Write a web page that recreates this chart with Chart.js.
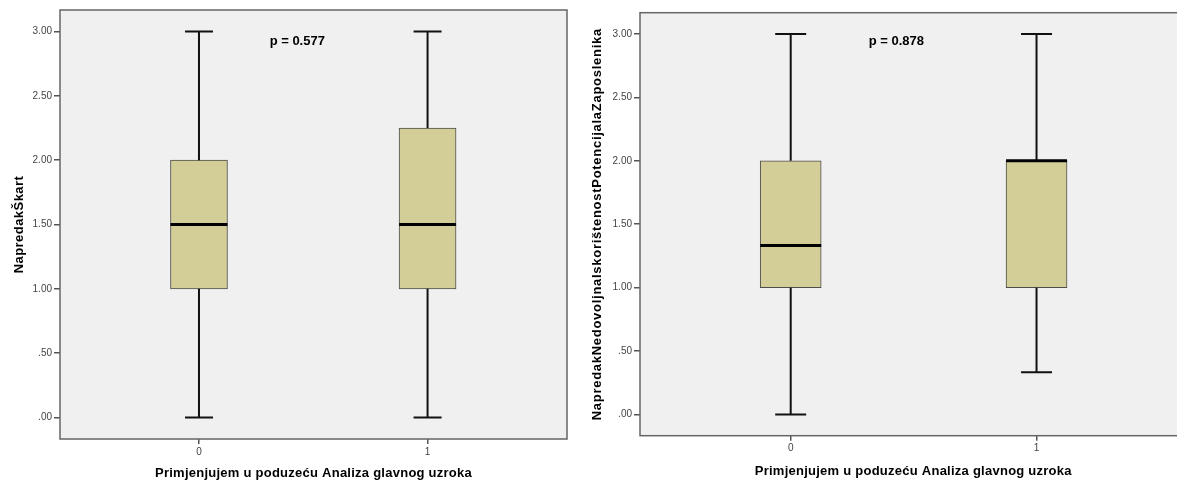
<!DOCTYPE html>
<html lang="en">
<head>
<meta charset="UTF-8" />
<title>Boxplots - Analiza glavnog uzroka</title>
<script src="https://cdn.jsdelivr.net/npm/chart.js"></script>
<style>
  html, body { margin: 0; padding: 0; background: #fff; overflow: hidden; }
  .wrap { position: absolute; top: 0; height: 487px; }
  #leftWrap { left: 0; width: 575px; }
  #rightWrap { left: 575px; width: 612px; }
</style>
</head>
<body>
<div id="leftWrap" class="wrap"><canvas id="leftChart"></canvas></div>
<div id="rightWrap" class="wrap"><canvas id="rightChart"></canvas></div>
<script>
  // shared
  const groups = [0, 1];
  const xTickLabels = ['0', '1'];
  const yTicks = [0, 0.5, 1, 1.5, 2, 2.5, 3];
  const xTitle = 'Primjenjujem u poduzeću Analiza glavnog uzroka';

  // left chart
  const leftTitle = 'NapredakŠkart';
  const leftMin = [0, 0];
  const leftQ1 = [1, 1];
  const leftMedian = [1.5, 1.5];
  const leftQ3 = [2, 2.25];
  const leftMax = [3, 3];
  const leftP = 'p = 0.577';

  // right chart
  const rightTitle = 'NapredakNedovoljnaIskorištenostPotencijalaZaposlenika';
  const rightMin = [0, 0.333];
  const rightQ1 = [1, 1];
  const rightMedian = [1.333, 2];
  const rightQ3 = [2, 2];
  const rightMax = [3, 3];
  const rightP = 'p = 0.878';

  const FONT = "Arial, 'Liberation Sans', sans-serif";

  function fmtTick(v) {
    return v.toFixed(2).replace(/^0/, '');
  }

  // background, frame, whiskers, medians and p label
  const boxParts = {
    id: 'boxParts',
    beforeDraw(chart, args, o) {
      // SPSS titles are a bit wider than plain Arial: add letter spacing to axis titles only
      Object.values(chart.scales).forEach(s => {
        if (s._spaced) return;
        const orig = s.drawTitle.bind(s);
        const sp = s.axis === 'x' ? o.xSpacing : o.ySpacing;
        s.drawTitle = function () {
          chart.ctx.save();
          chart.ctx.letterSpacing = sp + 'px';
          orig();
          chart.ctx.restore();
        };
        s._spaced = true;
      });
    },
    beforeDatasetsDraw(chart) {
      const a = chart.chartArea, ctx = chart.ctx;
      ctx.save();
      ctx.fillStyle = '#f0f0f0';
      ctx.fillRect(a.left, a.top, a.right - a.left, a.bottom - a.top);
      ctx.restore();
    },
    afterDatasetsDraw(chart, args, o) {
      const a = chart.chartArea, ctx = chart.ctx;
      const xs = chart.scales.x, ys = chart.scales.y;
      ctx.save();
      ctx.strokeStyle = '#111';
      ctx.lineWidth = 2;
      groups.forEach((g, i) => {
        const cx = xs.getPixelForValue(g);
        const half = o.cap / 2;
        const yMin = ys.getPixelForValue(o.min[i]);
        const yMax = ys.getPixelForValue(o.max[i]);
        const yQ1 = ys.getPixelForValue(o.q1[i]);
        const yQ3 = ys.getPixelForValue(o.q3[i]);
        ctx.beginPath();
        ctx.moveTo(cx, yQ3); ctx.lineTo(cx, yMax);
        ctx.moveTo(cx - half, yMax); ctx.lineTo(cx + half, yMax);
        ctx.moveTo(cx, yQ1); ctx.lineTo(cx, yMin);
        ctx.moveTo(cx - half, yMin); ctx.lineTo(cx + half, yMin);
        ctx.stroke();
      });
      ctx.lineWidth = 3;
      ctx.strokeStyle = '#000';
      groups.forEach((g, i) => {
        const cx = xs.getPixelForValue(g);
        const y = ys.getPixelForValue(o.median[i]);
        ctx.beginPath();
        ctx.moveTo(cx - o.box / 2, y); ctx.lineTo(cx + o.box / 2, y);
        ctx.stroke();
      });
      ctx.strokeStyle = '#666';
      ctx.lineWidth = 1.5;
      ctx.strokeRect(a.left, a.top, a.right - a.left, a.bottom - a.top);
      ctx.fillStyle = '#000';
      ctx.font = 'bold 13px ' + FONT;
      ctx.textAlign = 'center';
      ctx.textBaseline = 'middle';
      ctx.fillText(o.p, xs.getPixelForValue(o.pAt[0]), ys.getPixelForValue(o.pAt[1]));
      ctx.restore();
    }
  };

  function makeChart(id, cfg) {
    return new Chart(document.getElementById(id), {
      type: 'bar',
      data: {
        datasets: [{
          data: groups.map((g, i) => ({ x: g, y: [cfg.q1[i], cfg.q3[i]] })),
          backgroundColor: '#d3ce97',
          borderColor: '#4d4d4d',
          borderWidth: 1,
          borderSkipped: false,
          barThickness: cfg.box
        }]
      },
      options: {
        responsive: true,
        maintainAspectRatio: false,
        animation: false,
        layout: { padding: { top: cfg.top, right: cfg.right, bottom: 0, left: 0 } },
        plugins: {
          legend: { display: false },
          tooltip: { enabled: false },
          boxParts: cfg
        },
        scales: {
          x: {
            type: 'linear',
            offset: false,
            min: cfg.xMin, max: cfg.xMax,
            afterBuildTicks: s => { s.ticks = groups.map(v => ({ value: v })); },
            afterFit: s => { s.height = cfg.xAxisH; },
            grid: { offset: false, drawOnChartArea: false, tickLength: 5, tickColor: '#555', lineWidth: 1.5 },
            border: { display: false },
            ticks: {
              callback: v => xTickLabels[groups.indexOf(v)],
              font: { family: FONT, size: 10 }, color: '#444', padding: 2, maxRotation: 0
            },
            title: {
              display: true, text: xTitle, color: '#000',
              font: { family: FONT, size: 13, weight: 'bold' },
              padding: { top: 4, bottom: cfg.xTitlePad }
            }
          },
          y: {
            min: -0.167, max: 3.167,
            afterBuildTicks: s => { s.ticks = yTicks.map(v => ({ value: v })); },
            afterFit: s => { s.width = cfg.yAxisW; },
            grid: { drawOnChartArea: false, tickLength: 6, tickColor: '#555', lineWidth: 1.5 },
            border: { display: false },
            ticks: {
              callback: v => fmtTick(v),
              font: { family: FONT, size: 10 }, color: '#444', padding: 2
            },
            title: {
              display: true, text: cfg.title, color: '#000',
              font: { family: FONT, size: 13, weight: 'bold' },
              padding: { top: cfg.yTitlePad, bottom: 4 }
            }
          }
        }
      },
      plugins: [boxParts]
    });
  }

  makeChart('leftChart', {
    title: leftTitle, min: leftMin, q1: leftQ1, median: leftMedian, q3: leftQ3, max: leftMax,
    p: leftP, pAt: [0.43, 2.92],
    xMin: -0.608, xMax: 1.61, top: 10, right: 8, xAxisH: 48, yAxisW: 60,
    xTitlePad: 6, yTitlePad: 12, box: 57, cap: 28, xSpacing: 0.25, ySpacing: 0.45
  });

  makeChart('rightChart', {
    title: rightTitle, min: rightMin, q1: rightQ1, median: rightMedian, q3: rightQ3, max: rightMax,
    p: rightP, pAt: [0.43, 2.94],
    xMin: -0.613, xMax: 1.61, top: 12.7, right: 0.5, xAxisH: 51.3, yAxisW: 65,
    xTitlePad: 8, yTitlePad: 15, box: 61, cap: 31, xSpacing: 0.25, ySpacing: 0.72
  });
</script>
</body>
</html>
